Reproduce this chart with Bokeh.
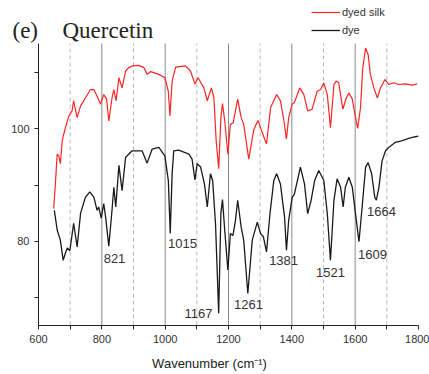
from bokeh.plotting import figure
from bokeh.models import Range1d, FixedTicker, Legend, LegendItem, Label, ColumnDataSource
from bokeh.core.properties import value
from bokeh.embed import file_html
from bokeh.resources import INLINE

# ---- data ----
dye_x = [650, 659, 669, 678, 685, 691, 699, 711, 722, 733, 748, 762, 775, 785, 790, 798,
         806, 812, 822, 833, 838, 844, 854, 864, 875, 890, 896, 927, 943, 959, 980, 999,
         1010, 1016, 1022, 1027, 1043, 1075, 1085, 1094, 1101, 1112, 1124, 1133, 1143, 1150,
         1159, 1169, 1176, 1181, 1188, 1198, 1206, 1214, 1222, 1229, 1240, 1248, 1261, 1275,
         1291, 1301, 1310, 1320, 1331, 1343, 1352, 1364, 1377, 1383, 1390, 1401, 1408, 1427,
         1440, 1450, 1461, 1472, 1485, 1501, 1512, 1522, 1533, 1543, 1554, 1562, 1569, 1580,
         1591, 1601, 1612, 1622, 1633, 1641, 1652, 1662, 1667, 1675, 1685, 1696, 1706, 1727,
         1749, 1769, 1790, 1800]
dye_y = [85.5, 82.0, 80.2, 76.6, 77.9, 78.8, 78.3, 83.2, 79.0, 85.0, 87.8, 88.8, 87.8, 85.5, 86.1, 84.1,
         86.7, 84.3, 79.1, 86.1, 89.6, 86.1, 93.5, 89.0, 94.9, 95.8, 96.1, 96.1, 93.9, 96.4, 96.7, 95.2,
         90.8, 81.4, 92.0, 96.1, 96.2, 95.5, 94.6, 90.9, 93.8, 93.2, 90.2, 86.1, 92.0, 90.8,
         83.1, 67.2, 85.0, 87.4, 82.0, 74.9, 81.4, 81.0, 83.7, 87.3, 82.5, 80.2, 70.7, 80.2,
         83.4, 81.4, 80.8, 78.1, 84.9, 90.8, 92.0, 90.2, 84.3, 78.4, 83.7, 87.8, 88.4, 93.2,
         90.2, 84.9, 87.3, 90.8, 92.6, 90.8, 84.9, 76.6, 87.3, 91.1, 89.6, 86.1, 89.6, 91.4,
         89.6, 84.9, 79.9, 86.1, 93.2, 94.0, 92.0, 87.8, 87.3, 89.6, 94.3, 96.1, 96.7, 97.6,
         97.9, 98.3, 98.6, 98.7]

silk_x = [648, 654, 659, 664, 669, 675, 680, 685, 696, 706, 711, 722, 733, 748, 764, 775,
          785, 796, 806, 815, 822, 833, 838, 845, 854, 864, 875, 885, 896, 917, 933, 943,
          954, 980, 999, 1010, 1015, 1022, 1033, 1064, 1080, 1094, 1104, 1122, 1133, 1146,
          1154, 1161, 1169, 1176, 1181, 1188, 1198, 1206, 1215, 1229, 1240, 1248, 1264, 1280,
          1293, 1303, 1320, 1333, 1352, 1364, 1375, 1383, 1390, 1401, 1408, 1425, 1438, 1450,
          1464, 1480, 1491, 1501, 1512, 1522, 1533, 1540, 1548, 1561, 1572, 1580, 1591, 1601,
          1608, 1617, 1624, 1633, 1641, 1648, 1659, 1670, 1680, 1694, 1706, 1722, 1738, 1759,
          1780, 1796]
silk_y = [85.8, 90.8, 95.5, 95.2, 93.8, 97.9, 99.1, 100.2, 102.3, 103.2, 105.0, 102.0, 104.1, 105.5, 107.0, 107.0,
          105.8, 104.4, 106.1, 105.3, 101.4, 105.8, 107.0, 105.0, 109.1, 107.3, 110.3, 110.9, 111.2, 111.3, 110.9, 109.7,
          110.2, 109.7, 109.1, 106.7, 102.3, 108.5, 111.0, 111.2, 110.3, 108.0, 109.1, 107.3, 105.0, 107.3,
          105.5, 97.9, 92.9, 102.0, 104.5, 101.5, 95.5, 100.8, 101.1, 105.3, 102.0, 100.8, 94.6, 99.9,
          101.5, 99.9, 97.3, 103.8, 106.1, 105.0, 101.4, 98.2, 102.0, 104.4, 104.7, 107.3, 106.1, 103.2,
          103.5, 106.7, 107.0, 108.2, 106.1, 100.2, 107.9, 108.5, 108.2, 103.5, 105.5, 106.4, 105.3, 102.0,
          100.1, 103.8, 110.9, 114.4, 113.2, 109.7, 107.3, 105.5, 107.3, 108.8, 107.9, 108.2, 107.9, 108.0,
          107.8, 108.0]

peak_labels = ["821", "1015", "1167", "1261", "1381", "1521", "1609", "1664"]
peak_label_x = [840, 1055, 1105, 1263, 1374, 1522, 1655, 1683]
peak_label_y = [77.0, 79.6, 67.1, 68.7, 76.5, 74.5, 77.7, 85.3]

x_major = [600, 800, 1000, 1200, 1400, 1600, 1800]
x_minor = [700, 900, 1100, 1300, 1500, 1700]
y_major = [80, 100]
y_minor = [70, 90, 110]
solid_lines = [800, 1000, 1200, 1400, 1600]
dashed_lines = [700, 900, 1100, 1300, 1500, 1700]

X_MIN, X_MAX = 600, 1800
Y_MIN, Y_MAX = 65, 115.2

# ---- figure ----
FONT = "Liberation Sans"
p = figure(width=429, height=374, x_range=Range1d(480, 1800), y_range=Range1d(65, 122.85),
           output_backend="svg", toolbar_location=None,
           min_border_left=0, min_border_right=11, min_border_top=0, min_border_bottom=49)
p.outline_line_color = None
p.xgrid.visible = False
p.ygrid.visible = False
p.background_fill_color = "white"
p.border_fill_color = "white"

# vertical guide lines (solid every 200, dashed in between)
p.segment(x0=solid_lines, y0=[Y_MIN] * len(solid_lines), x1=solid_lines, y1=[Y_MAX] * len(solid_lines),
          line_color="#8a8a8a", line_width=1)
p.segment(x0=dashed_lines, y0=[Y_MIN] * len(dashed_lines), x1=dashed_lines, y1=[Y_MAX] * len(dashed_lines),
          line_color="#b8b8b8", line_width=1, line_dash="4 3")

for ax in (p.xaxis[0], p.yaxis[0]):
    ax.axis_line_color = "#222222"
    ax.major_tick_line_color = "#222222"
    ax.minor_tick_line_color = "#222222"
    ax.major_tick_in = 0
    ax.major_tick_out = 4
    ax.minor_tick_in = 0
    ax.minor_tick_out = 4
    ax.major_label_text_font = FONT
    ax.major_label_text_font_size = "11px"
    ax.major_label_text_color = "#333333"
    ax.major_label_standoff = 5

p.xaxis.ticker = FixedTicker(ticks=x_major, minor_ticks=x_minor)
p.xaxis.bounds = (X_MIN, X_MAX)
p.yaxis.ticker = FixedTicker(ticks=y_major, minor_ticks=y_minor)
p.yaxis.bounds = (Y_MIN, Y_MAX)
p.yaxis.fixed_location = X_MIN
p.xaxis.axis_label = "Wavenumber (cm\u207b\u00b9)"
p.xaxis.axis_label_text_font = FONT
p.xaxis.axis_label_text_font_size = "13px"
p.xaxis.axis_label_text_font_style = "normal"
p.xaxis.axis_label_text_color = "#222222"
p.xaxis.axis_label_standoff = 10

r_silk = p.line(silk_x, silk_y, line_color="#ff2424", line_width=1.2)
r_dye = p.line(dye_x, dye_y, line_color="#1a1a1a", line_width=1.3)

src = ColumnDataSource(dict(x=peak_label_x, y=peak_label_y, t=peak_labels))
p.text(x="x", y="y", text="t", source=src, text_font=value(FONT), text_font_size="13px",
       text_color="#333333", text_align="center", text_baseline="middle")

legend = Legend(items=[LegendItem(label="dyed silk", renderers=[r_silk]),
                       LegendItem(label="dye", renderers=[r_dye])],
                location=(311, 286), label_text_font=FONT, label_text_font_size="11px",
                label_text_color="#333333", glyph_width=29, glyph_height=18, label_height=18,
                spacing=0, padding=0, margin=0, border_line_color=None,
                background_fill_alpha=0, label_standoff=2)
p.add_layout(legend)

p.add_layout(Label(x=12, y=295, x_units="screen", y_units="screen", text="(e)",
                   text_font="Liberation Serif", text_font_size="23px", text_color="#222222",
                   text_baseline="alphabetic"))
p.add_layout(Label(x=62, y=295, x_units="screen", y_units="screen", text="Quercetin",
                   text_font="Liberation Serif", text_font_size="23px", text_color="#222222",
                   text_baseline="alphabetic"))

open("out.html", "w").write(file_html(p, INLINE))
